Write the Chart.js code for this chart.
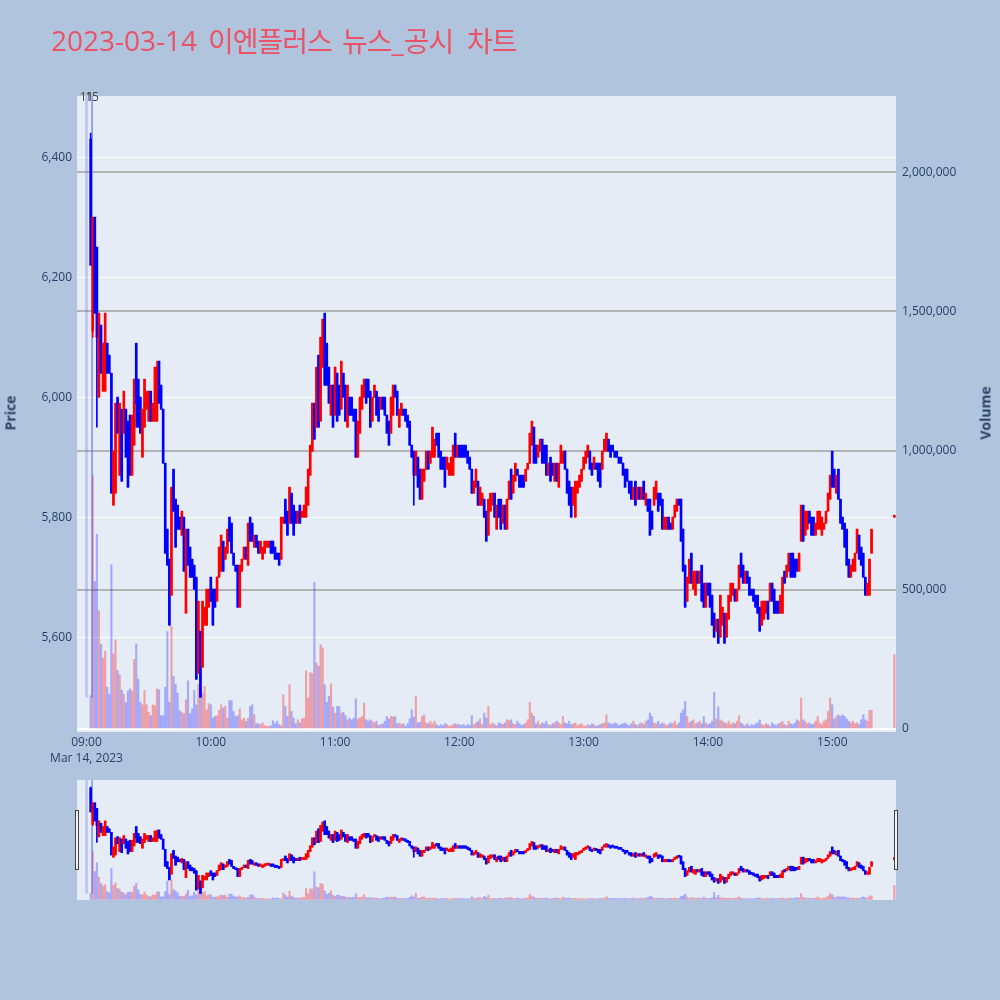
<!DOCTYPE html>
<html>
<head>
<meta charset="utf-8">
<script src="https://cdn.jsdelivr.net/npm/chart.js@4.4.0/dist/chart.umd.min.js"></script>
<style>
  html, body { margin: 0; padding: 0; background: #b0c4de; }
  #wrap { position: relative; width: 1000px; height: 1000px; overflow: hidden; }
  #main { position: absolute; left: 0; top: 0; }
  #nav { position: absolute; left: 77px; top: 780px; background: #e5ecf6; }
  .title span { position: absolute; top: 26px; font-size: 28px; line-height: 28px;
           font-family: 'Open Sans', 'Noto Sans CJK KR', sans-serif; color: #ec5266; white-space: nowrap; }
  .title .ko { font-family: 'Noto Sans CJK KR', sans-serif; letter-spacing: -1px; }
  .title .ko b { font-weight: normal; font-family: 'Open Sans', sans-serif; letter-spacing: 0; }
  .ytitle { position: absolute; font: bold 14px 'Open Sans', sans-serif; color: #2a3f5f;
            transform: translate(-50%, -50%) rotate(-90deg); white-space: nowrap; }
  .handle { position: absolute; top: 810px; width: 2px; height: 58px; background: #f4f4f4; border: 1px solid #444; }
</style>
</head>
<body>
<div id="wrap">
  <canvas id="main" width="1000" height="1000"></canvas>
  <canvas id="nav" width="819" height="120"></canvas>
  <div class="handle" style="left:75px"></div>
  <div class="handle" style="left:894px"></div>
  <div class="title">
    <span style="left:51px">2023-03-14</span>
    <span class="ko" style="left:208px">이엔플러스</span>
    <span class="ko" style="left:342px">뉴스<b>_</b>공시</span>
    <span class="ko" style="left:467px">차트</span>
  </div>
  <div class="ytitle" style="left:10px;top:413px">Price</div>
  <div class="ytitle" style="left:985px;top:413px">Volume</div>
</div>
<script>
// ===================== DATA =====================
// minutes after 09:00; one candle per minute from 09:02 to 15:19, plus the 15:30 close
const firstMinute = 2;
const lastMinute = 379;
const closingMinute = 390;

const openP = [
  6430,6110,6300,6250,6000,6120,6010,6010,6090,6070,
  6040,5820,5840,6000,5870,5980,5940,5980,5960,5970,
  5870,5920,6090,6030,6000,5900,5950,5980,5960,6010,
  5960,5960,5960,6060,6020,5980,5890,5780,5730,5670,
  5880,5830,5820,5800,5770,5800,5640,5780,5750,5730,
  5720,5700,5540,5610,5550,5620,5620,5650,5700,5680,
  5680,5660,5700,5710,5760,5730,5740,5800,5790,5740,
  5720,5720,5650,5710,5730,5750,5720,5800,5790,5750,
  5770,5760,5740,5730,5740,5750,5750,5760,5760,5750,
  5740,5740,5730,5790,5830,5810,5790,5840,5820,5810,
  5790,5820,5800,5800,5800,5820,5870,5910,5990,5950,
  6070,5960,6050,6140,6090,6050,5970,6020,5970,6040,
  6020,5980,6040,6020,5950,6000,6000,5980,5980,5900,
  5940,5980,6000,6030,6030,6010,5960,6000,6010,6000,
  5980,6000,6000,5970,5960,5940,5970,6020,6010,5950,
  5970,5980,5980,5970,5960,5920,5910,5870,5900,5880,
  5830,5860,5880,5910,5890,5900,5900,5940,5940,5910,
  5900,5900,5880,5870,5870,5870,5940,5900,5920,5920,
  5920,5920,5910,5900,5880,5840,5850,5860,5820,5820,
  5830,5810,5770,5810,5820,5840,5780,5830,5830,5790,
  5820,5780,5830,5880,5840,5860,5880,5870,5870,5870,
  5860,5880,5890,5920,5950,5920,5900,5910,5930,5920,
  5920,5870,5900,5890,5860,5890,5850,5890,5890,5910,
  5880,5860,5850,5820,5800,5840,5850,5860,5880,5890,
  5900,5910,5890,5880,5890,5890,5890,5880,5910,5910,
  5930,5920,5920,5910,5910,5900,5900,5890,5880,5880,
  5860,5860,5830,5860,5830,5850,5830,5860,5820,5830,
  5830,5810,5820,5830,5840,5840,5830,5780,5780,5800,
  5790,5780,5800,5810,5830,5830,5780,5720,5660,5690,
  5740,5680,5670,5710,5690,5720,5690,5650,5690,5690,
  5670,5640,5610,5630,5600,5620,5640,5600,5630,5660,
  5670,5680,5660,5680,5740,5720,5690,5710,5700,5680,
  5680,5670,5670,5650,5620,5630,5640,5660,5660,5690,
  5680,5660,5660,5640,5640,5710,5700,5710,5740,5740,
  5730,5730,5710,5760,5820,5770,5780,5810,5800,5800,
  5770,5780,5780,5770,5780,5790,5810,5830,5910,5880,
  5840,5880,5830,5800,5790,5780,5730,5700,5710,5710,
  5740,5770,5750,5740,5700,5670,5670,5740,
  5800
];
const highP = [
  6440,6300,6300,6250,6140,6120,6090,6140,6090,6070,
  6040,5910,5990,6000,5990,5980,6010,5980,5960,5970,
  5970,6030,6090,6030,6000,5980,6030,6010,6010,6010,
  5990,6050,6060,6060,6020,5980,5890,5780,5730,5850,
  5880,5830,5820,5800,5810,5800,5780,5780,5750,5730,
  5720,5700,5660,5610,5660,5650,5680,5680,5700,5680,
  5680,5700,5750,5770,5760,5750,5780,5800,5790,5740,
  5720,5720,5720,5730,5750,5750,5790,5800,5790,5770,
  5770,5760,5760,5750,5760,5760,5760,5760,5760,5750,
  5740,5740,5800,5800,5830,5810,5850,5840,5820,5810,
  5810,5820,5810,5820,5850,5880,5920,5990,5990,6050,
  6070,6100,6130,6140,6090,6050,6020,6020,6050,6040,
  6020,6060,6040,6020,6020,6000,6000,5980,5980,5960,
  6000,6020,6030,6030,6030,6010,6000,6020,6010,6000,
  6000,6000,6000,5970,5960,6000,6020,6020,6010,5980,
  5990,5980,5980,5970,5960,5920,5910,5910,5900,5880,
  5880,5880,5910,5910,5910,5950,5930,5940,5940,5910,
  5900,5900,5900,5890,5900,5920,5940,5920,5920,5920,
  5920,5920,5910,5900,5880,5860,5880,5860,5850,5840,
  5830,5810,5830,5840,5840,5840,5820,5830,5830,5820,
  5820,5830,5860,5880,5870,5890,5880,5870,5870,5870,
  5880,5890,5940,5960,5950,5920,5920,5930,5930,5920,
  5920,5890,5900,5890,5890,5890,5890,5920,5910,5910,
  5880,5860,5850,5850,5860,5860,5870,5880,5900,5910,
  5920,5910,5890,5900,5890,5890,5890,5910,5930,5940,
  5930,5920,5920,5910,5910,5900,5900,5890,5880,5880,
  5860,5860,5850,5860,5850,5850,5850,5860,5840,5830,
  5830,5810,5850,5860,5840,5840,5830,5800,5800,5800,
  5790,5800,5820,5830,5830,5830,5780,5720,5700,5730,
  5740,5710,5710,5710,5710,5720,5690,5690,5690,5690,
  5670,5640,5630,5630,5670,5650,5640,5640,5670,5690,
  5690,5680,5680,5720,5740,5720,5710,5710,5700,5680,
  5680,5670,5670,5650,5660,5660,5660,5660,5690,5690,
  5680,5660,5660,5670,5700,5710,5720,5740,5740,5740,
  5730,5730,5740,5820,5820,5810,5810,5810,5800,5800,
  5790,5810,5810,5800,5790,5810,5840,5870,5910,5880,
  5870,5880,5830,5800,5790,5780,5730,5720,5730,5740,
  5780,5770,5750,5740,5700,5690,5730,5780,
  5800
];
const lowP = [
  6220,6100,6140,5950,6000,6040,6010,6010,6040,6040,
  5840,5820,5840,5940,5870,5860,5940,5900,5850,5870,
  5870,5920,5950,5950,5940,5900,5950,5980,5960,5960,
  5960,5960,5960,5990,5980,5890,5740,5720,5620,5670,
  5810,5750,5780,5780,5770,5710,5640,5720,5700,5700,
  5680,5530,5540,5500,5550,5620,5620,5650,5660,5620,
  5650,5660,5700,5710,5710,5730,5740,5760,5740,5720,
  5710,5650,5650,5710,5730,5730,5720,5760,5760,5750,
  5750,5740,5740,5730,5740,5750,5750,5740,5740,5730,
  5730,5720,5730,5790,5790,5770,5790,5790,5770,5790,
  5790,5790,5800,5800,5800,5820,5870,5910,5930,5950,
  5950,5960,6050,6020,6020,5990,5970,5950,5970,5960,
  5970,5980,6000,5960,5950,5970,5970,5960,5900,5900,
  5940,5980,6000,5990,6000,5950,5960,6000,5970,5960,
  5980,5980,5970,5940,5920,5940,5970,6000,5970,5950,
  5970,5970,5960,5950,5920,5900,5820,5870,5850,5830,
  5830,5860,5880,5880,5890,5900,5900,5920,5900,5880,
  5880,5850,5880,5870,5870,5870,5900,5900,5900,5900,
  5900,5900,5890,5880,5840,5840,5850,5820,5820,5820,
  5800,5760,5770,5810,5820,5800,5780,5800,5780,5790,
  5780,5780,5830,5830,5840,5860,5870,5850,5850,5850,
  5860,5880,5890,5920,5890,5890,5900,5910,5890,5890,
  5870,5870,5860,5870,5860,5860,5850,5890,5890,5880,
  5840,5820,5800,5820,5800,5840,5850,5860,5880,5890,
  5900,5880,5870,5880,5880,5860,5850,5880,5910,5910,
  5910,5900,5910,5900,5900,5890,5890,5870,5850,5860,
  5840,5830,5830,5820,5830,5830,5830,5830,5820,5810,
  5770,5780,5820,5830,5810,5820,5780,5780,5780,5780,
  5780,5780,5800,5810,5820,5760,5710,5650,5660,5690,
  5690,5680,5670,5690,5690,5660,5650,5650,5670,5650,
  5620,5600,5610,5590,5600,5620,5590,5600,5630,5660,
  5670,5660,5660,5680,5700,5690,5690,5690,5670,5670,
  5660,5650,5640,5610,5620,5630,5640,5630,5660,5660,
  5640,5640,5640,5640,5640,5690,5700,5710,5700,5700,
  5700,5710,5710,5760,5760,5770,5780,5790,5770,5770,
  5770,5780,5780,5770,5780,5790,5810,5830,5850,5850,
  5840,5830,5790,5780,5750,5720,5700,5700,5710,5710,
  5740,5730,5720,5700,5670,5670,5670,5740,
  5800
];
const closeP = [
  6220,6300,6140,6100,6140,6040,6090,6140,6040,6040,
  5840,5910,5990,5940,5990,5860,6010,5900,5850,5870,
  5970,6030,5990,5950,5940,5980,6030,6010,6010,5960,
  5990,6050,6050,5990,5980,5890,5740,5720,5620,5850,
  5810,5750,5780,5780,5810,5710,5780,5720,5700,5700,
  5680,5530,5660,5500,5660,5650,5680,5680,5660,5620,
  5650,5700,5750,5770,5710,5750,5780,5760,5740,5720,
  5710,5650,5720,5730,5750,5730,5790,5760,5760,5770,
  5750,5740,5760,5750,5760,5760,5760,5740,5740,5730,
  5730,5720,5800,5800,5790,5770,5850,5790,5770,5790,
  5810,5790,5810,5820,5850,5880,5920,5990,5930,6050,
  5950,6100,6130,6020,6020,5990,6020,5950,6050,5960,
  5970,6060,6000,5960,6020,5970,5970,5960,5900,5960,
  6000,6020,6030,5990,6000,5950,6000,6020,5970,5960,
  6000,5980,5970,5940,5920,6000,6020,6000,5970,5980,
  5990,5970,5960,5950,5920,5900,5870,5910,5850,5830,
  5880,5880,5910,5880,5910,5950,5930,5920,5900,5880,
  5880,5850,5900,5890,5900,5920,5900,5920,5900,5900,
  5900,5900,5890,5880,5840,5860,5880,5820,5850,5840,
  5800,5760,5830,5840,5840,5800,5820,5800,5780,5820,
  5780,5830,5860,5830,5870,5890,5870,5850,5850,5850,
  5880,5890,5940,5960,5890,5890,5920,5930,5890,5890,
  5870,5890,5860,5870,5890,5860,5890,5920,5910,5880,
  5840,5820,5800,5850,5860,5860,5870,5880,5900,5910,
  5920,5880,5870,5900,5880,5860,5850,5910,5930,5940,
  5910,5900,5910,5900,5900,5890,5890,5870,5850,5860,
  5840,5830,5850,5820,5850,5830,5850,5830,5840,5810,
  5770,5780,5850,5860,5810,5820,5780,5800,5800,5780,
  5780,5800,5820,5830,5820,5760,5710,5650,5700,5730,
  5690,5710,5710,5690,5710,5660,5650,5690,5670,5650,
  5620,5600,5630,5590,5670,5650,5590,5640,5670,5690,
  5690,5660,5680,5720,5700,5690,5710,5690,5670,5670,
  5660,5650,5640,5610,5660,5660,5660,5630,5690,5660,
  5640,5640,5640,5670,5700,5690,5720,5740,5700,5700,
  5700,5710,5740,5820,5760,5810,5810,5790,5770,5770,
  5790,5810,5810,5800,5790,5810,5840,5870,5850,5850,
  5870,5830,5790,5780,5750,5720,5700,5720,5730,5740,
  5780,5730,5720,5700,5670,5690,5730,5780,
  5800
];
// volume in thousand shares, same minutes as the candles
const volumeK = [
  120,910,530,700,425,305,255,280,150,125,
  590,270,320,210,195,140,125,95,137,144,
  137,250,306,
  179,96,87,139,87,60,48,87,84,144,
  141,48,48,150,350,96,368,189,161,129,
  66,60,55,105,173,55,72,139,87,159,
  153,129,153,69,91,87,39,45,48,67,
  87,75,81,39,102,102,63,45,48,72,
  33,39,28,39,81,87,51,19,19,16,
  22,12,10,10,12,30,19,28,16,12,
  123,81,45,159,63,39,19,33,22,37,
  39,210,111,203,199,527,237,225,303,291,
  159,96,117,163,79,57,81,81,57,60,
  48,33,39,33,39,108,36,39,45,93,
  33,28,33,28,22,28,13,16,19,28,
  45,36,45,43,45,19,22,16,19,10,
  19,36,69,43,117,22,24,45,50,22,
  19,28,19,28,16,10,16,12,19,16,
  10,12,16,19,16,16,12,16,10,16,
  12,48,16,22,28,36,16,57,39,81,
  16,22,
  16,12,22,19,16,22,33,30,33,19,
  16,28,19,12,16,22,33,96,57,45,
  19,28,16,22,19,28,16,12,19,22,
  28,22,16,45,22,19,28,16,19,22,
  12,16,19,12,10,16,12,19,16,10,
  12,16,19,22,51,22,19,16,22,19,
  12,16,19,22,16,12,19,28,16,12,
  19,22,16,28,33,57,45,22,19,28,
  16,22,19,12,16,22,19,28,16,22,
  57,69,99,45,22,28,33,19,22,28,
  19,45,22,16,19,28,132,36,79,33,
  28,22,19,28,16,22,19,28,48,22,
  16,12,19,10,16,12,19,22,33,16,
  12,19,16,10,22,16,12,19,22,28,
  16,12,28,19,16,22,33,28,111,33,
  28,19,22,16,19,28,45,22,16,28,
  33,63,111,87,36,45,51,45,51,45,
  36,28,22,28,19,22,16,33,51,33,
  28,67,67,
  267
];

// news markers: minute position and count label
const newsMinutes = [0, 2.7];
const newsCounts = ['11', '15'];
const newsLow = 5500;

// axes
const hourTicks = [0, 60, 120, 180, 240, 300, 360];
const hourLabels = ['09:00', '10:00', '11:00', '12:00', '13:00', '14:00', '15:00'];
const dateLabel = 'Mar 14, 2023';
const priceTicks = [5600, 5800, 6000, 6200, 6400];
const volumeTicks = [0, 500000, 1000000, 1500000, 2000000];

const X_MIN = -4.6, X_MAX = 390.8;
const PRICE_MIN = 5442, PRICE_MAX = 6502;
const VOL_MIN = -10800, VOL_MAX = 2273700;

// ===================== STYLE =====================
const UP = '#ff0000';
const DOWN = '#0000ff';
const UP_VOL = 'rgba(255,0,0,0.32)';
const DOWN_VOL = 'rgba(0,0,255,0.28)';
const TICK_COLOR = '#2a3f5f';
const FONT = "'Open Sans', sans-serif";

const tradeMinutes = [];
for (let m = firstMinute; m <= lastMinute; m++) tradeMinutes.push(m);
tradeMinutes.push(closingMinute);

const isUp = tradeMinutes.map((m, i) => closeP[i] >= openP[i]);

function buildDatasets() {
  return [
    {
      label: 'body', order: 1, grouped: false, yAxisID: 'y',
      data: tradeMinutes.map((m, i) => ({ x: m, y: [openP[i], closeP[i]] })),
      backgroundColor: isUp.map(u => u ? UP : DOWN),
      barThickness: 2, minBarLength: 2, borderWidth: 0
    },
    {
      label: 'wick', order: 2, grouped: false, yAxisID: 'y',
      data: tradeMinutes.map((m, i) => ({ x: m, y: [lowP[i], highP[i]] })),
      backgroundColor: isUp.map(u => u ? UP : DOWN),
      barThickness: 1, borderWidth: 0
    },
    {
      label: 'news1', order: 3, grouped: false, yAxisID: 'y',
      data: [{ x: newsMinutes[0], y: [newsLow, PRICE_MAX] }],
      backgroundColor: 'rgba(99,110,250,0.32)', barThickness: 2, borderWidth: 0
    },
    {
      label: 'news2', order: 3, grouped: false, yAxisID: 'y',
      data: [{ x: newsMinutes[1], y: [newsLow, PRICE_MAX] }],
      backgroundColor: 'rgba(70,95,240,0.6)', barThickness: 1, borderWidth: 0
    },
    {
      label: 'volume', order: 4, grouped: false, yAxisID: 'y2',
      data: tradeMinutes.map((m, i) => ({ x: m, y: volumeK[i] * 1000 })),
      backgroundColor: isUp.map(u => u ? UP_VOL : DOWN_VOL),
      barThickness: 1.5, borderWidth: 0
    }
  ];
}

// ===================== PLUGINS =====================
const plotBg = {
  id: 'plotBg',
  beforeDraw(chart) {
    const { ctx, chartArea: a } = chart;
    ctx.save();
    ctx.fillStyle = '#e5ecf6';
    ctx.fillRect(a.left, a.top, a.right - a.left, a.bottom - a.top);
    ctx.restore();
  }
};

const newsText = {
  id: 'newsText',
  afterDatasetsDraw(chart) {
    const { ctx } = chart;
    const xs = chart.scales.x;
    ctx.save();
    ctx.font = '12px ' + FONT;
    ctx.fillStyle = '#444';
    ctx.textAlign = 'center';
    ctx.textBaseline = 'middle';
    newsMinutes.forEach((m, i) => {
      ctx.fillText(newsCounts[i], xs.getPixelForValue(m), 98);
    });
    ctx.restore();
  }
};

// ===================== MAIN CHART =====================
Chart.defaults.font.family = FONT;

new Chart(document.getElementById('main'), {
  type: 'bar',
  data: { datasets: buildDatasets() },
  options: {
    responsive: false, animation: false, events: [], devicePixelRatio: 1,
    layout: { padding: { top: 96, bottom: 228, left: 0, right: 0 } },
    plugins: { legend: { display: false }, tooltip: { enabled: false } },
    scales: {
      x: {
        type: 'linear', min: X_MIN, max: X_MAX, offset: false,
        grid: { display: false, drawTicks: false }, border: { display: false },
        afterBuildTicks: s => { s.ticks = hourTicks.map(v => ({ value: v })); },
        afterFit: s => { s.height = 40; },
        ticks: {
          padding: 3, color: TICK_COLOR, maxRotation: 0, autoSkip: false,
          font: { size: 12, lineHeight: 1.33 },
          callback: (v, i) => i === 0 ? [hourLabels[0], dateLabel] : hourLabels[i]
        }
      },
      y: {
        position: 'left', min: PRICE_MIN, max: PRICE_MAX,
        grid: { color: '#ffffff', lineWidth: 1, drawTicks: false }, border: { display: false },
        afterBuildTicks: s => { s.ticks = priceTicks.map(v => ({ value: v })); },
        afterFit: s => { s.width = 77; },
        ticks: { padding: 5, color: TICK_COLOR, font: { size: 12 },
                 callback: v => v.toLocaleString('en-US') }
      },
      y2: {
        position: 'right', min: VOL_MIN, max: VOL_MAX,
        grid: {
          drawTicks: false,
          color: c => (c.tick && c.tick.value === 0) ? '#ffffff' : '#b3b3b3',
          lineWidth: 2
        },
        border: { display: false },
        afterBuildTicks: s => { s.ticks = volumeTicks.map(v => ({ value: v })); },
        afterFit: s => { s.width = 104; },
        ticks: { padding: 6, color: TICK_COLOR, font: { size: 12 },
                 callback: v => v.toLocaleString('en-US') }
      }
    }
  },
  plugins: [plotBg, newsText]
});

// ===================== RANGE SLIDER =====================
new Chart(document.getElementById('nav'), {
  type: 'bar',
  data: { datasets: buildDatasets() },
  options: {
    responsive: false, animation: false, events: [], devicePixelRatio: 1,
    layout: { padding: 0 },
    plugins: { legend: { display: false }, tooltip: { enabled: false } },
    scales: {
      x: { type: 'linear', min: X_MIN, max: X_MAX, offset: false, display: false },
      y: { min: PRICE_MIN, max: PRICE_MAX, display: false },
      y2: { min: VOL_MIN, max: VOL_MAX, display: false }
    }
  }
});
</script>
</body>
</html>
